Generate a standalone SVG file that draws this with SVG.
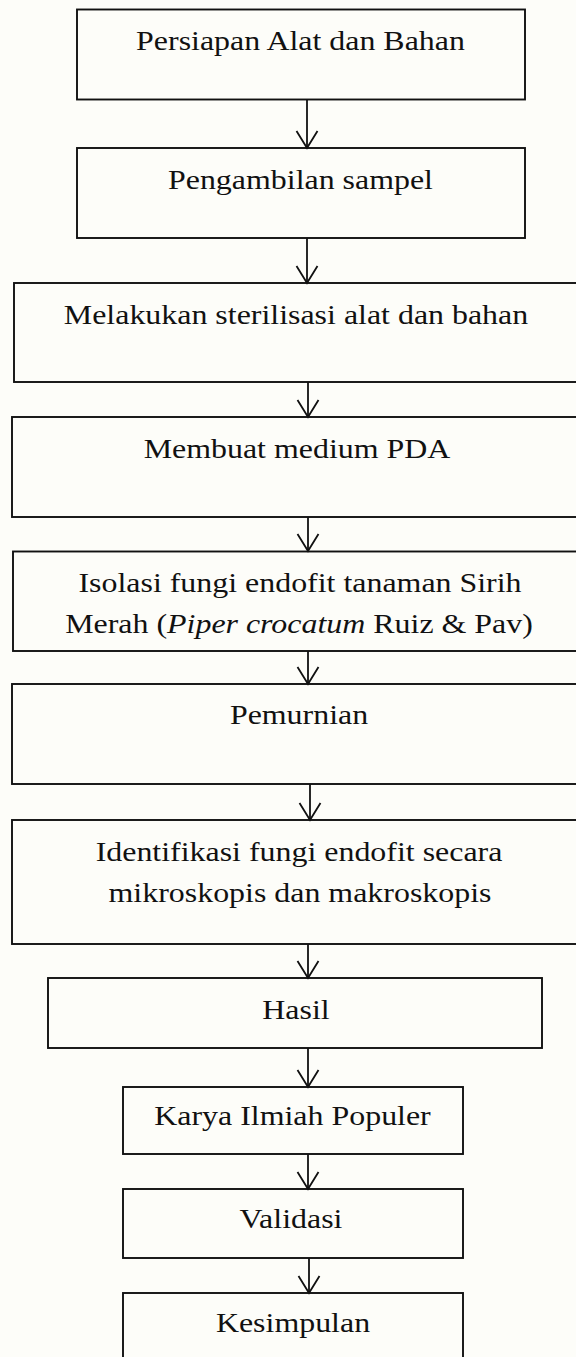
<svg xmlns="http://www.w3.org/2000/svg" width="576" height="1357" viewBox="0 0 576 1357">
<style>
.bg{fill:#fdfdf9}
.box{fill:none;stroke:#111;stroke-width:1.9}
.lbl{font-family:"Liberation Serif","Times New Roman",serif;font-size:28px;fill:#111;text-anchor:middle}
.it{font-style:italic}
.conn{fill:none;stroke:#111;stroke-width:1.8}
</style>
<defs>
<marker id="vhead" viewBox="-19 -12 21 24" markerWidth="21" markerHeight="24" refX="0" refY="0" markerUnits="userSpaceOnUse" orient="auto">
<path d="M-17,-10.5 L0,0 L-17,10.5" fill="none" stroke="#111" stroke-width="1.8"/>
</marker>
</defs>
<rect class="bg" x="0" y="0" width="576" height="1357"/>
<g id="connectors">
<line class="conn" x1="307" y1="100" x2="307" y2="148" marker-end="url(#vhead)"/>
<line class="conn" x1="307" y1="238" x2="307" y2="283" marker-end="url(#vhead)"/>
<line class="conn" x1="308" y1="382" x2="308" y2="417" marker-end="url(#vhead)"/>
<line class="conn" x1="308" y1="517" x2="308" y2="551" marker-end="url(#vhead)"/>
<line class="conn" x1="308" y1="651" x2="308" y2="684" marker-end="url(#vhead)"/>
<line class="conn" x1="310" y1="784" x2="310" y2="820" marker-end="url(#vhead)"/>
<line class="conn" x1="308" y1="944" x2="308" y2="978" marker-end="url(#vhead)"/>
<line class="conn" x1="308" y1="1048" x2="308" y2="1087" marker-end="url(#vhead)"/>
<line class="conn" x1="308" y1="1154" x2="308" y2="1189" marker-end="url(#vhead)"/>
<line class="conn" x1="309" y1="1258" x2="309" y2="1293" marker-end="url(#vhead)"/>
</g>
<g id="n1">
<rect class="box" x="77" y="9.5" width="448" height="90"/>
<text class="lbl" transform="translate(300.5 50) scale(1.14 1)">Persiapan Alat dan Bahan</text>
</g>
<g id="n2">
<rect class="box" x="77" y="148" width="448" height="90"/>
<text class="lbl" transform="translate(300.5 189) scale(1.14 1)">Pengambilan sampel</text>
</g>
<g id="n3">
<rect class="box" x="14" y="283" width="580" height="99"/>
<text class="lbl" transform="translate(296 324) scale(1.14 1)">Melakukan sterilisasi alat dan bahan</text>
</g>
<g id="n4">
<rect class="box" x="12" y="417" width="580" height="100"/>
<text class="lbl" transform="translate(297 458) scale(1.14 1)">Membuat medium PDA</text>
</g>
<g id="n5">
<rect class="box" x="13" y="551.5" width="580" height="99.5"/>
<text class="lbl" transform="translate(300 592) scale(1.14 1)">Isolasi fungi endofit tanaman Sirih</text>
<text class="lbl" transform="translate(299 633) scale(1.14 1)">Merah (<tspan class="it">Piper crocatum</tspan> Ruiz &amp; Pav)</text>
</g>
<g id="n6">
<rect class="box" x="12" y="684" width="580" height="100"/>
<text class="lbl" transform="translate(299 724) scale(1.14 1)">Pemurnian</text>
</g>
<g id="n7">
<rect class="box" x="12" y="820" width="580" height="124"/>
<text class="lbl" transform="translate(299 861) scale(1.14 1)">Identifikasi fungi endofit secara</text>
<text class="lbl" transform="translate(300 902) scale(1.14 1)">mikroskopis dan makroskopis</text>
</g>
<g id="n8">
<rect class="box" x="48" y="978" width="494" height="70"/>
<text class="lbl" transform="translate(296 1019) scale(1.14 1)">Hasil</text>
</g>
<g id="n9">
<rect class="box" x="123" y="1087" width="340" height="67"/>
<text class="lbl" transform="translate(292.5 1125) scale(1.14 1)">Karya Ilmiah Populer</text>
</g>
<g id="n10">
<rect class="box" x="123" y="1189" width="340" height="69"/>
<text class="lbl" transform="translate(291 1228) scale(1.14 1)">Validasi</text>
</g>
<g id="n11">
<rect class="box" x="123" y="1293" width="340" height="80"/>
<text class="lbl" transform="translate(293 1332) scale(1.14 1)">Kesimpulan</text>
</g>
</svg>
